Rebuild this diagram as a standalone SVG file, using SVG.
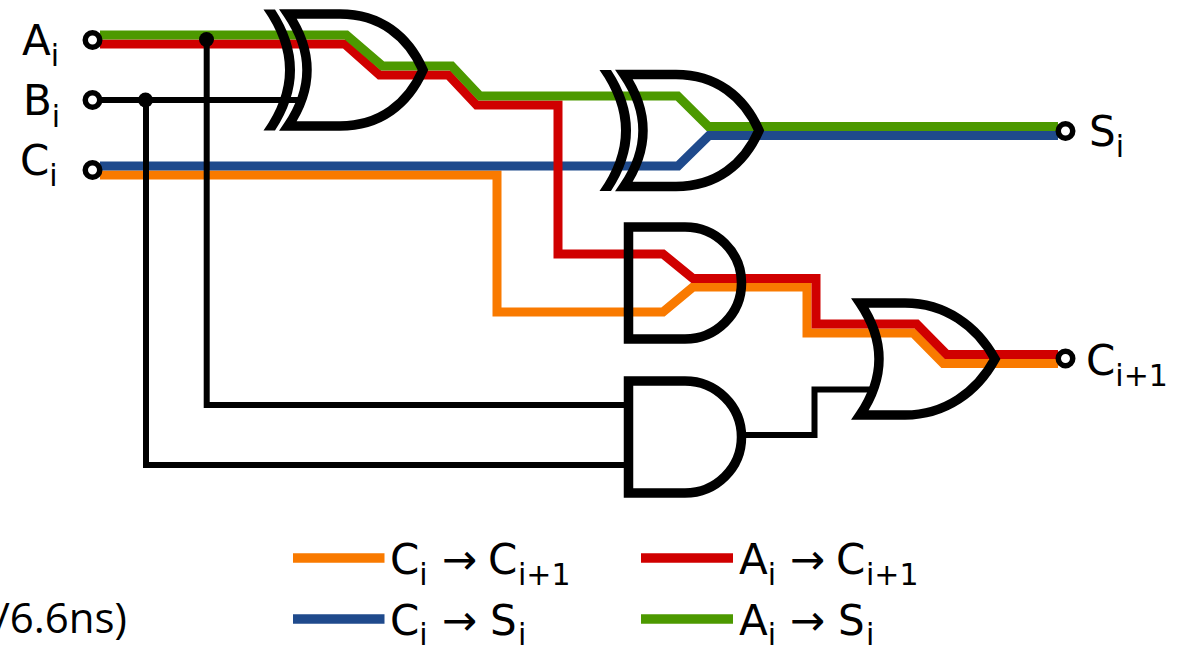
<svg xmlns="http://www.w3.org/2000/svg" width="1179" height="645" viewBox="0 0 1179 645">
<style>
text{font-family:"DejaVu Sans",sans-serif;font-size:42px;fill:#000}
.s{font-size:30px}
.w{fill:none;stroke-width:9;stroke-linejoin:miter}
.o{stroke:#f97a00}.b{stroke:#1f4a8c}.r{stroke:#d00000}.g{stroke:#4c9900}
.k{fill:none;stroke:#000;stroke-width:6}
.gate{fill:none;stroke:#000;stroke-width:9.5;stroke-linejoin:miter;stroke-miterlimit:10}
.term{fill:#fff;stroke:#000;stroke-width:5.5}
.leg{stroke-width:9.5;fill:none}
</style>
<defs>
<g id="xor">
<path class="gate" d="M288,14H340C380,14 408,36 423,70C408,104 380,126 340,126H288Q307,98 307,70Q307,42 288,14Z"/>
<path d="M263.5,9.5H275Q295,40 295,70Q295,100 275,130.5H263.5Q285,100 285,70Q285,40 263.5,9.5Z" fill="#000"/>
</g>
<path id="and" class="gate" d="M628.5,227H685C716,227 741.5,252 741.5,283C741.5,314 716,339 685,339H628.5Z"/>
</defs>
<g id="connectors">
<path class="w o" d="M100,175H497V312H663L693,287H807V333H913.3L943.3,363.5H1058"/>
<path class="w b" d="M100,166H678L709,135.5H1058"/>
<path class="w r" d="M100,44H344.6L379.6,75H448.3L476.6,105H558V254H663L693,278.5H816V324H916.7L946.7,354.5H1058"/>
<path class="w g" d="M100,35H346.4L382.4,66H451.7L480,96H677.7L708.4,126.4H1058"/>
<path class="k" d="M100,100H300"/>
<path class="k" d="M146,100V465H628"/>
<path class="k" d="M206.7,40V405H628"/>
<path class="k" d="M741,435H814.5V389.5H870"/>
<circle cx="145.5" cy="100" r="7.5"/>
<circle cx="206.5" cy="39.5" r="7.5"/>
</g>
<g id="xor-1"><use href="#xor"/></g>
<g id="xor-2"><use href="#xor" transform="translate(336,60.5)"/></g>
<g id="and-1"><use href="#and"/></g>
<g id="and-2"><use href="#and" transform="translate(0,154)"/></g>
<g id="or-1"><path class="gate" d="M860,303H905C945,303 977,326 995,359C977,392 945,415 905,415H860Q879,387 879,359Q879,331 860,303Z"/></g>
<g id="in-a"><circle class="term" cx="92.5" cy="40" r="7.25"/><text x="22" y="55">A<tspan class="s" dy="11">i</tspan></text></g>
<g id="in-b"><circle class="term" cx="92.5" cy="100" r="7.25"/><text x="23" y="115">B<tspan class="s" dy="12">i</tspan></text></g>
<g id="in-c"><circle class="term" cx="92.5" cy="170" r="7.25"/><text x="20" y="175">C<tspan class="s" dy="11">i</tspan></text></g>
<g id="out-s"><circle class="term" cx="1065.5" cy="131" r="7.25"/><text x="1089" y="146">S<tspan class="s" dy="11">i</tspan></text></g>
<g id="out-c"><circle class="term" cx="1065.5" cy="358.5" r="7.25"/><text x="1086" y="375">C<tspan class="s" dy="11">i+1</tspan></text></g>
<g id="note"><text x="127" y="633" text-anchor="end" style="font-family:'Open Sans',sans-serif">/6.6ns)</text></g>
<g id="legend">
<path class="leg o" d="M293,558H384.5"/>
<path class="leg b" d="M293,619H384.5"/>
<path class="leg r" d="M641,558H733"/>
<path class="leg g" d="M641,619H733"/>
<text x="390" y="574">C<tspan class="s" dy="11">i</tspan><tspan x="442" dy="-11">→</tspan><tspan x="488">C</tspan><tspan class="s" x="518" dy="11">i+1</tspan></text>
<text x="390" y="635">C<tspan class="s" dy="10">i</tspan><tspan x="442" dy="-10">→</tspan><tspan x="490">S</tspan><tspan class="s" x="518" dy="10">i</tspan></text>
<text x="739" y="574">A<tspan class="s" dy="11">i</tspan><tspan x="790" dy="-11">→</tspan><tspan x="836">C</tspan><tspan class="s" x="866" dy="11">i+1</tspan></text>
<text x="739" y="635">A<tspan class="s" dy="10">i</tspan><tspan x="790" dy="-10">→</tspan><tspan x="838">S</tspan><tspan class="s" x="866" dy="10">i</tspan></text>
</g>
</svg>
